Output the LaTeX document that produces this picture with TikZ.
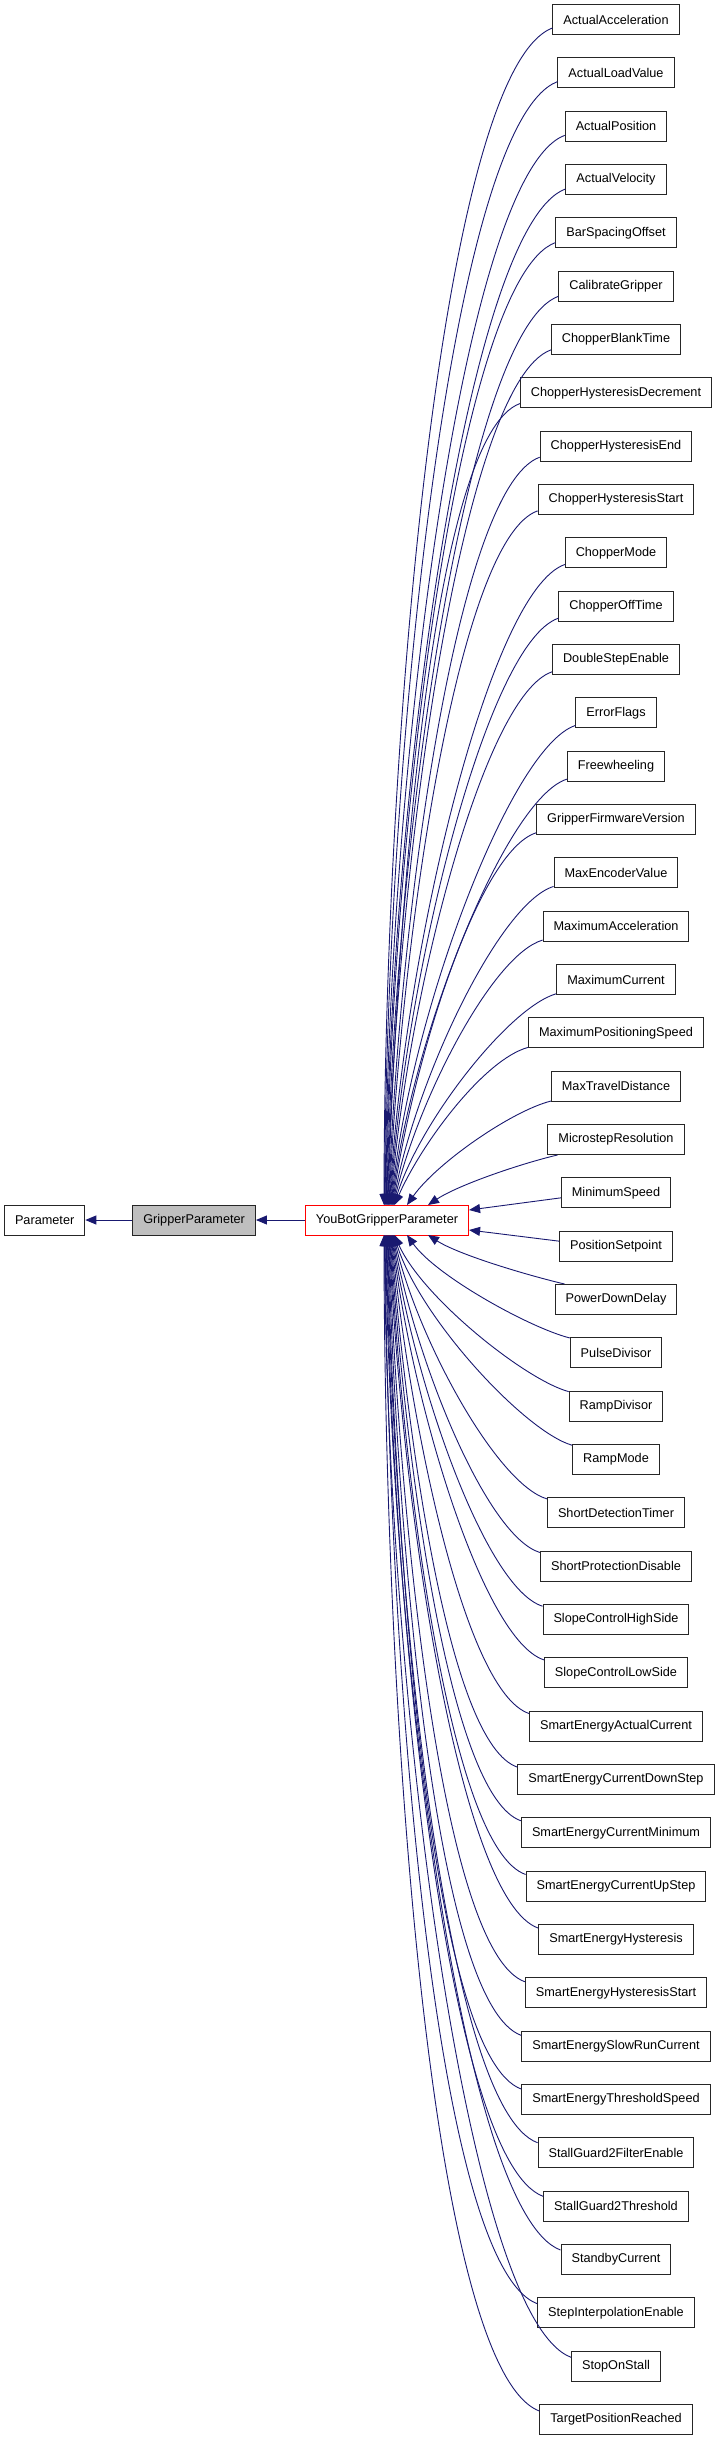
\documentclass[tikz,border=0pt]{standalone}
\usepackage{fontspec}
\setmainfont{Liberation Sans}
\usetikzlibrary{arrows.meta, positioning}
\definecolor{midnight}{RGB}{25,25,112}

\begin{document}
\begin{tikzpicture}[x=1pt, y=-1pt,
  cls/.style={rectangle, draw=black!85, line width=1pt, fill=white,
              minimum height=30pt, inner xsep=10.5pt, inner ysep=0pt,
              font=\fontsize{12.7}{15}\selectfont},
  inh/.style={-{Triangle[length=11pt, width=9pt]}, line width=0.9pt, midnight}
]
  \useasboundingbox (0,0) rectangle (720,2440);

  % base classes
  \node[cls, draw=red] (ybgp) at (387,1220) {YouBotGripperParameter};
  \node[cls, fill=black!25, left=49pt of ybgp] (grip) {GripperParameter};
  \node[cls, left=47pt of grip] (param) {Parameter};

  \draw[inh] (grip) -- (param);
  \draw[inh] (ybgp) -- (grip);

  % derived classes
  \foreach \name [count=\i from 0] in {ActualAcceleration, ActualLoadValue,
      ActualPosition, ActualVelocity, BarSpacingOffset, CalibrateGripper,
      ChopperBlankTime, ChopperHysteresisDecrement, ChopperHysteresisEnd,
      ChopperHysteresisStart, ChopperMode, ChopperOffTime, DoubleStepEnable,
      ErrorFlags, Freewheeling, GripperFirmwareVersion, MaxEncoderValue,
      MaximumAcceleration, MaximumCurrent, MaximumPositioningSpeed,
      MaxTravelDistance, MicrostepResolution, MinimumSpeed, PositionSetpoint,
      PowerDownDelay, PulseDivisor, RampDivisor, RampMode, ShortDetectionTimer,
      ShortProtectionDisable, SlopeControlHighSide, SlopeControlLowSide,
      SmartEnergyActualCurrent, SmartEnergyCurrentDownStep,
      SmartEnergyCurrentMinimum, SmartEnergyCurrentUpStep,
      SmartEnergyHysteresis, SmartEnergyHysteresisStart,
      SmartEnergySlowRunCurrent, SmartEnergyThresholdSpeed,
      StallGuard2FilterEnable, StallGuard2Threshold, StandbyCurrent,
      StepInterpolationEnable, StopOnStall, TargetPositionReached}
    \node[cls] (c\i) at (616, 19.5+53.333*\i) {\name};

  % upper fan, into the top side
  \foreach \i in {0,...,21}{
    \pgfmathsetmacro\kd{1190-19.5-53.333*\i}
    \pgfmathsetmacro\ex{\i<20 ? 384+0.55*\i : (\i<21 ? 407 : 428)}
    \pgfmathsetmacro\sx{\i<21 ? 0 : 10}
    \pgfmathsetmacro\sy{\i<21 ? 7*\kd/1170 : 0}
    \pgfmathsetmacro\ka{33+0.066*\kd}
    \pgfmathsetmacro\kb{7+0.03*\kd}
    \pgfmathsetmacro\kc{max(0,32-0.027*\kd)}
    \pgfmathsetmacro\ke{0.4*\kd}
    \draw[inh] ([xshift=\sx pt, yshift=\sy pt]c\i.south west)
      .. controls +(-\ka,\kb) and +(\kc,-\ke) .. (\ex,1205);
  }

  % lower fan, into the bottom side
  \foreach \i in {24,...,45}{
    \pgfmathsetmacro\kd{19.5+53.333*\i-1250}
    \pgfmathsetmacro\j{45-\i}
    \pgfmathsetmacro\ex{\j<20 ? 384+0.55*\j : (\j<21 ? 407 : 428)}
    \pgfmathsetmacro\sx{\j<21 ? 0 : 10}
    \pgfmathsetmacro\sy{\j<21 ? 7*\kd/1170 : 0}
    \pgfmathsetmacro\ka{33+0.066*\kd}
    \pgfmathsetmacro\kb{7+0.03*\kd}
    \pgfmathsetmacro\kc{max(0,32-0.027*\kd)}
    \pgfmathsetmacro\ke{0.4*\kd}
    \draw[inh] ([xshift=\sx pt, yshift=-\sy pt]c\i.north west)
      .. controls +(-\ka,-\kb) and +(\kc,\ke) .. (\ex,1235);
  }

  % the two nearest, into the right side
  \draw[inh] ([yshift=-5pt]c22.west) -- ([yshift=10pt]ybgp.east);
  \draw[inh] ([yshift=5pt]c23.west) -- ([yshift=-10pt]ybgp.east);
\end{tikzpicture}
\end{document}
